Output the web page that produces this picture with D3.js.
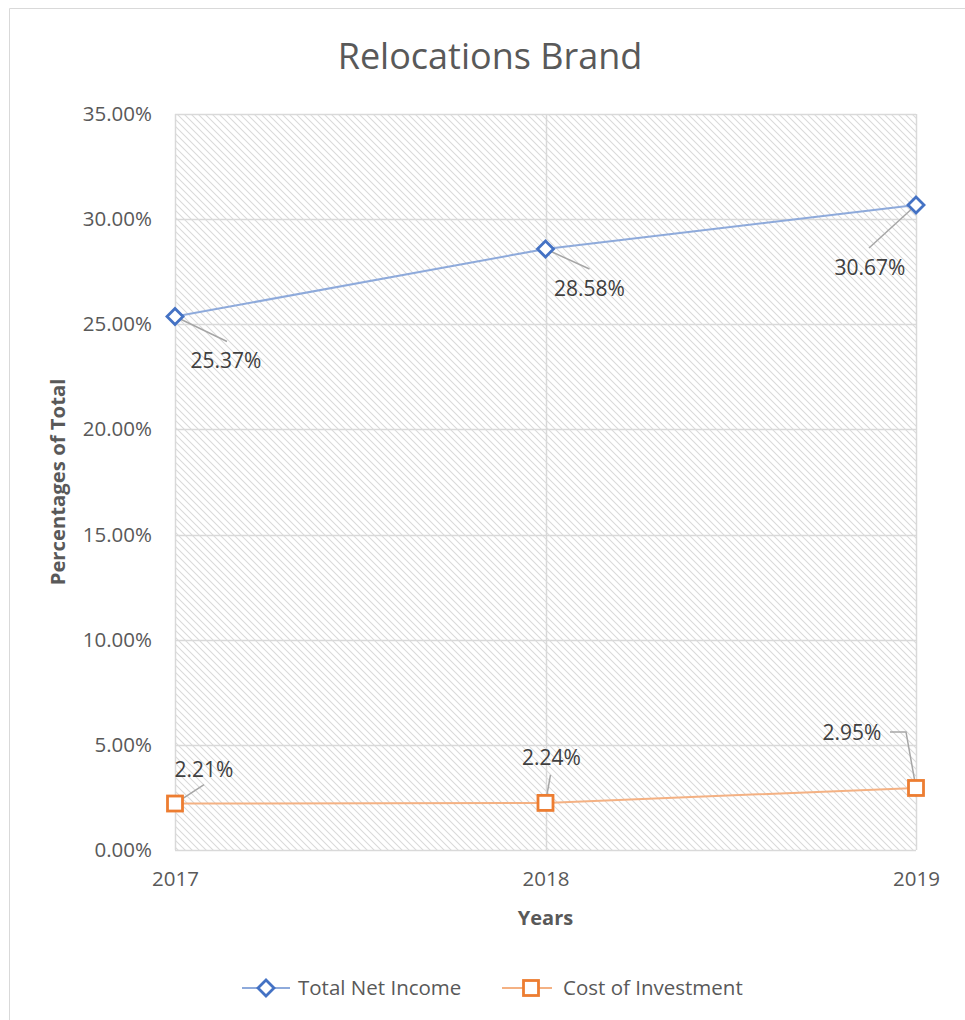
<!DOCTYPE html>
<html>
<head>
<meta charset="utf-8">
<script src="https://cdn.jsdelivr.net/npm/d3@7"></script>
<style>
  html, body { margin: 0; padding: 0; background: #fff; }
  svg { display: block; }
  text { font-family: "Open Sans", "Liberation Sans", sans-serif; }
</style>
</head>
<body>
<svg id="chart" width="965" height="1020"></svg>
<script>
const years = ["2017", "2018", "2019"];
const totalNetIncome = [25.37, 28.58, 30.67];
const costOfInvestment = [2.21, 2.24, 2.95];
const yTicks = [0, 5, 10, 15, 20, 25, 30, 35];
const seriesNames = ["Total Net Income", "Cost of Investment"];
const chartTitle = "Relocations Brand";
const xTitle = "Years";
const yTitle = "Percentages of Total";

const svg = d3.select("#chart");
const W = 965, H = 1020;
const m = { left: 175, right: 49, top: 114, bottom: 170 };
const x = d3.scalePoint().domain(years).range([m.left, W - m.right]);
const y = d3.scaleLinear().domain([0, 35]).range([H - m.bottom, m.top]);
const textColor = "#595959";

// outer border (chart area frame)
svg.append("path").attr("d", `M9.5,1020 V8.5 H965`).attr("fill", "none").attr("stroke", "#d9d9d9").attr("stroke-width", 1);

// hatch pattern
const defs = svg.append("defs");
const pat = defs.append("pattern").attr("id", "hatch").attr("patternUnits", "userSpaceOnUse")
  .attr("width", 7).attr("height", 7);
pat.append("path").attr("d", "M-1,-1 L8,8 M-8,-1 L1,8 M6,-1 L15,8")
  .attr("stroke", "#dadada").attr("stroke-width", 1.1);

svg.append("rect").attr("x", x(years[0])).attr("y", y(35))
  .attr("width", x(years[2]) - x(years[0])).attr("height", y(0) - y(35))
  .attr("fill", "url(#hatch)");

// gridlines
const grid = svg.append("g");
grid.selectAll("line.h").data(yTicks).join("line").attr("class", "h")
  .attr("x1", x(years[0])).attr("x2", x(years[2]))
  .attr("y1", d => Math.round(y(d)) + 0.5).attr("y2", d => Math.round(y(d)) + 0.5)
  .attr("stroke", "#d9d9d9").attr("stroke-width", 1.5);
grid.selectAll("line.v").data(years).join("line").attr("class", "v")
  .attr("x1", d => Math.round(x(d)) + 0.5).attr("x2", d => Math.round(x(d)) + 0.5)
  .attr("y1", y(35)).attr("y2", y(0))
  .attr("stroke", "#d9d9d9").attr("stroke-width", 1.5);

// axes
const yAxis = d3.axisLeft(y).tickValues(yTicks).tickFormat(d => d.toFixed(2) + "%").tickSize(0).tickPadding(23);
const yg = svg.append("g").attr("transform", `translate(${x(years[0])},0)`).call(yAxis);
yg.select(".domain").remove();
yg.selectAll("text").attr("fill", textColor).style("font-size", "20.5px").style("font-family", "'Open Sans', sans-serif");

const xAxis = d3.axisBottom(x).tickSize(0).tickPadding(21);
const xg = svg.append("g").attr("transform", `translate(0,${y(0)})`).call(xAxis);
xg.select(".domain").remove();
xg.selectAll("text").attr("fill", textColor).style("font-size", "20.5px").style("font-family", "'Open Sans', sans-serif");

// titles
svg.append("text").attr("x", 490).attr("y", 69).attr("text-anchor", "middle")
  .attr("fill", textColor).style("font-size", "36px").text(chartTitle);
svg.append("text").attr("x", x(years[1])).attr("y", 925).attr("text-anchor", "middle")
  .attr("fill", textColor).style("font-size", "20px").style("font-weight", "bold").text(xTitle);
svg.append("text").attr("transform", `translate(65,${482}) rotate(-90)`).attr("text-anchor", "middle")
  .attr("fill", textColor).style("font-size", "20.3px").style("font-weight", "bold").text(yTitle);

const blueLine = "#8eaadb", blueMark = "#4472c4";
const orangeLine = "#f4b183", orangeMark = "#ed7d31";

const line = d3.line().x((d, i) => x(years[i])).y(d => y(d));
svg.append("path").datum(totalNetIncome).attr("d", line).attr("fill", "none").attr("stroke", blueLine).attr("stroke-width", 2);
svg.append("path").datum(costOfInvestment).attr("d", line).attr("fill", "none").attr("stroke", orangeLine).attr("stroke-width", 2);

// leader lines + labels (offsets relative to point)
const leaderColor = "#a6a6a6";
const tniOffsets = [
  { lx: 52, ly: 25, tx: 51, ty: 51 },
  { lx: 44, ly: 20, tx: 44, ty: 47 },
  { lx: -47, ly: 43, tx: -46, ty: 70 }
];
const coiOffsets = [
  { path: [[0, 0], [29, -19]], tx: 29, ty: -27 },
  { path: [[0, 0], [5, -28]], tx: 6, ty: -38 },
  { path: [[0, 0], [-10, -56], [-26, -56]], tx: -64, ty: -48 }
];

function drawLabels(vals, offs, isPath) {
  vals.forEach((v, i) => {
    const px = x(years[i]), py = y(v), o = offs[i];
    const pts = isPath ? o.path : [[0, 0], [o.lx, o.ly]];
    svg.append("path").attr("d", d3.line()(pts.map(p => [px + p[0], py + p[1]])))
      .attr("fill", "none").attr("stroke", leaderColor).attr("stroke-width", 1.5);
    svg.append("text").attr("x", px + o.tx).attr("y", py + o.ty).attr("text-anchor", "middle")
      .attr("fill", "#404040").style("font-size", "21px").text(v.toFixed(2) + "%");
  });
}

// markers
function diamond(g, cx, cy) {
  g.append("path").attr("d", `M${cx},${cy - 8} L${cx + 8},${cy} L${cx},${cy + 8} L${cx - 8},${cy} Z`)
    .attr("fill", "#fff").attr("stroke", blueMark).attr("stroke-width", 2.8);
}
function square(g, cx, cy) {
  g.append("rect").attr("x", cx - 7.5).attr("y", cy - 7.5).attr("width", 15).attr("height", 15)
    .attr("fill", "#fff").attr("stroke", orangeMark).attr("stroke-width", 2.8);
}

drawLabels(totalNetIncome, tniOffsets, false);
drawLabels(costOfInvestment, coiOffsets, true);

const mg = svg.append("g");
totalNetIncome.forEach((v, i) => diamond(mg, x(years[i]), y(v)));
costOfInvestment.forEach((v, i) => square(mg, x(years[i]), y(v)));

// legend
const lg = svg.append("g");
const ly = 988;
lg.append("line").attr("x1", 242).attr("x2", 290).attr("y1", ly).attr("y2", ly).attr("stroke", blueLine).attr("stroke-width", 2);
diamond(lg, 266, ly);
lg.append("text").attr("x", 298).attr("y", ly + 7).attr("fill", textColor).style("font-size", "20.5px").text(seriesNames[0]);
lg.append("line").attr("x1", 502).attr("x2", 552).attr("y1", ly).attr("y2", ly).attr("stroke", orangeLine).attr("stroke-width", 2);
square(lg, 531, ly);
lg.append("text").attr("x", 563).attr("y", ly + 7).attr("fill", textColor).style("font-size", "20.5px").text(seriesNames[1]);
</script>
</body>
</html>
